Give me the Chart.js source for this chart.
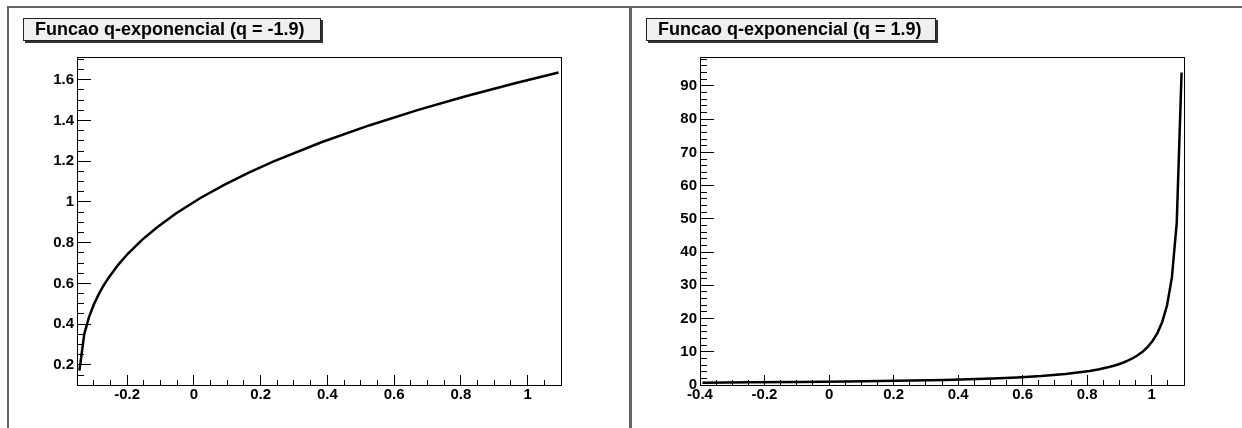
<!DOCTYPE html>
<html>
<head>
<meta charset="utf-8">
<script src="https://cdn.jsdelivr.net/npm/chart.js@4.4.1/dist/chart.umd.min.js"></script>
<style>
  body { margin: 0; background: #fff; width: 1242px; height: 428px; overflow: hidden; position: relative;
         font-family: "Liberation Sans", Arial, sans-serif; }
  canvas { position: absolute; top: 0; }
  .edge { position: absolute; background: #666; z-index: 2; }
  .title { position: absolute; top: 18px; height: 23px; box-sizing: border-box; background: #f0f0f0;
           border: 1px solid #222; box-shadow: 2px 2px 0 #333; font-weight: bold; font-size: 18px;
           line-height: 21px; padding-left: 11px; white-space: nowrap; color: #000; z-index: 3; }
</style>
</head>
<body>
<canvas id="chartNeg" width="630" height="428" style="left:0"></canvas>
<canvas id="chartPos" width="612" height="428" style="left:630px"></canvas>

<div class="edge" style="left:7px; top:6px; width:1235px; height:2px"></div>
<div class="edge" style="left:7px; top:6px; width:2px; height:422px"></div>
<div class="edge" style="left:629px; top:6px; width:3px; height:422px"></div>

<div class="title" style="left:23px; width:298px">Funcao q-exponencial (q = -1.9)</div>
<div class="title" style="left:646px; width:290px">Funcao q-exponencial (q = 1.9)</div>

<script>
// e_q(x) for q = -1.9, sampled along x
var xNeg = [-0.34275, -0.32825, -0.31375, -0.29925, -0.28475, -0.27025, -0.25575, -0.22675,
            -0.19775, -0.15425, -0.11075, -0.05275, 0.01975, 0.09225, 0.16475, 0.23725,
            0.38225, 0.52725, 0.67225, 0.81725, 0.96225, 1.09275];
var yNeg = [0.1716, 0.3511, 0.4361, 0.4977, 0.5474, 0.5898, 0.6271, 0.6910,
            0.7454, 0.8151, 0.8749, 0.9443, 1.0194, 1.0852, 1.1442, 1.1979,
            1.2933, 1.3771, 1.4521, 1.5203, 1.5832, 1.6361];

// e_q(x) for q = 1.9
var xPos = [-0.3925, -0.2425, -0.0925, 0.0575, 0.2075, 0.3575, 0.5075, 0.5825, 0.6575, 0.7325,
            0.8075, 0.8375, 0.8675, 0.8825, 0.8975, 0.9125, 0.9275, 0.9425, 0.9575, 0.9725,
            0.9875, 1.0025, 1.0175, 1.0325, 1.0475, 1.0625, 1.0775, 1.0925];
var yPos = [0.7145, 0.8030, 0.9150, 1.0608, 1.2582, 1.5394, 1.9698, 2.2828, 2.7059, 3.3076,
            4.2273, 4.745, 5.3985, 5.794, 6.247, 6.7739, 7.391, 8.126, 9.0117, 10.101,
            11.473, 13.246, 15.625, 18.970, 24.004, 32.36, 48.78, 94.02];

// axis limits [min, max] and tick steps [major, minor]
var xRangeNeg = [-0.35, 1.1];
var yRangeNeg = [0.101, 1.712];
var yStepsNeg = [0.2, 0.05];
var xRangePos = [-0.4, 1.1];
var yRangePos = [0, 98.7];
var yStepsPos = [10, 2];
var xSteps = [0.2, 0.05];

var labelFont = { family: '"Liberation Sans", Arial, sans-serif', size: 15, weight: 'bold' };

function fmt(v) {
    return String(Math.round(v * 100) / 100);
}

// black box around the plot area
var framePlugin = {
    id: 'frame',
    afterDraw: function(chart) {
        var a = chart.chartArea;
        var ctx = chart.ctx;
        ctx.save();
        ctx.strokeStyle = '#000';
        ctx.lineWidth = 1;
        ctx.strokeRect(a.left + 0.5, a.top + 0.5, a.right - a.left, a.bottom - a.top);
        ctx.restore();
    }
};

function makeChart(id, xs, ys, xRange, yRange, ySteps, yWidth, padRight) {
    var pts = xs.map(function(x, i) { return { x: x, y: ys[i] }; });
    return new Chart(document.getElementById(id), {
        type: 'line',
        data: {
            datasets: [{
                data: pts,
                borderColor: '#000',
                borderWidth: 2.5,
                pointRadius: 0,
                tension: 0,
                fill: false
            }]
        },
        options: {
            animation: false,
            responsive: false,
            maintainAspectRatio: false,
            layout: { padding: { top: 57, right: padRight, left: 0, bottom: 0 } },
            plugins: { legend: { display: false }, tooltip: { enabled: false } },
            scales: {
                x: {
                    type: 'linear', position: 'bottom', min: xRange[0], max: xRange[1],
                    ticks: { stepSize: xSteps[0], includeBounds: false, autoSkip: false, maxRotation: 0,
                             padding: 11, color: '#000', font: labelFont, callback: fmt },
                    grid: { drawOnChartArea: false, tickLength: -10, tickColor: '#000', tickWidth: 1 },
                    border: { color: '#000', width: 1 },
                    afterFit: function(s) { s.height = 43; }
                },
                // minor ticks sit right on the frame edge (weight keeps them innermost)
                xMinor: {
                    type: 'linear', position: 'bottom', weight: -1, min: xRange[0], max: xRange[1],
                    ticks: { stepSize: xSteps[1], includeBounds: false, autoSkip: false, display: false },
                    grid: { drawOnChartArea: false, tickLength: -5, tickColor: '#000', tickWidth: 1 },
                    border: { display: false },
                    afterFit: function(s) { s.height = 0; }
                },
                y: {
                    type: 'linear', position: 'left', min: yRange[0], max: yRange[1],
                    ticks: { stepSize: ySteps[0], includeBounds: false, autoSkip: false,
                             padding: 17, color: '#000', font: labelFont, callback: fmt },
                    grid: { drawOnChartArea: false, tickLength: -14, tickColor: '#000', tickWidth: 1 },
                    border: { color: '#000', width: 1 },
                    afterFit: function(s) { s.width = yWidth; }
                },
                yMinor: {
                    type: 'linear', position: 'left', weight: -1, min: yRange[0], max: yRange[1],
                    ticks: { stepSize: ySteps[1], includeBounds: false, autoSkip: false, display: false },
                    grid: { drawOnChartArea: false, tickLength: -7, tickColor: '#000', tickWidth: 1 },
                    border: { display: false },
                    afterFit: function(s) { s.width = 0; }
                }
            }
        },
        plugins: [framePlugin]
    });
}

makeChart('chartNeg', xNeg, yNeg, xRangeNeg, yRangeNeg, yStepsNeg, 77, 69);
makeChart('chartPos', xPos, yPos, xRangePos, yRangePos, yStepsPos, 70, 58);
</script>
</body>
</html>
